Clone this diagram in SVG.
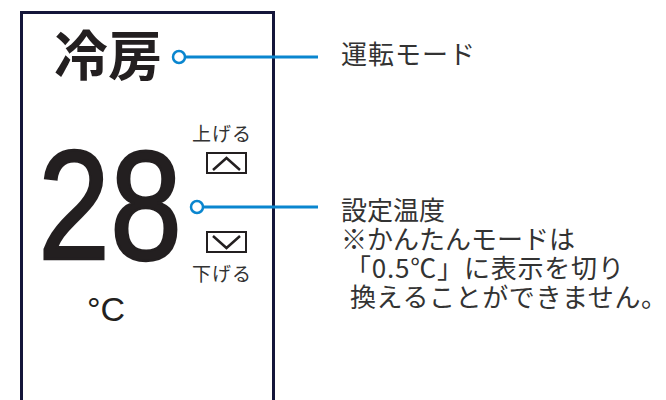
<svg xmlns="http://www.w3.org/2000/svg" width="666" height="400" viewBox="0 0 666 400">
<style>
.jp{font-family:"Noto Sans CJK JP","Noto Sans",sans-serif;fill:#231f20}
.lbl{font-size:26px;fill:#333}
.small{font-size:19px;fill:#333;letter-spacing:1px}
.conn{stroke:#0a86cf;stroke-width:3;fill:none}
.dot{stroke:#0a86cf;stroke-width:2.5;fill:#fff}
.btn{fill:#fff;stroke:#231f20;stroke-width:2}
.chev{fill:none;stroke:#231f20;stroke-width:2.5}
</style>
<rect width="666" height="400" fill="#fff"/>
<g id="frame">
<rect x="21.5" y="12.5" width="252" height="400" fill="#fff" stroke="#14163a" stroke-width="3"/>
</g>
<g id="mode">
<text class="jp" x="54" y="76" font-size="54" font-weight="bold">冷房</text>
</g>
<g id="temp">
<text x="38" y="259" font-family="Liberation Sans,Arial,sans-serif" font-size="155" fill="#231f20" stroke="#231f20" stroke-width="2.5" textLength="144" lengthAdjust="spacingAndGlyphs">28</text>
<text x="87" y="321" font-family="Liberation Sans,Arial,sans-serif" font-size="34" fill="#231f20">°C</text>
</g>
<g id="up">
<text class="jp small" x="192" y="141">上げる</text>
<rect class="btn" x="207" y="153" width="39" height="20"/>
<polyline class="chev" points="213,170 226.5,158 240,170"/>
</g>
<g id="down">
<rect class="btn" x="207" y="232" width="39" height="20"/>
<polyline class="chev" points="213,236 226.5,248 240,236"/>
<text class="jp small" x="192" y="281">下げる</text>
</g>
<g id="connectors">
<line class="conn" x1="185" y1="57" x2="318" y2="57"/>
<circle class="dot" cx="179" cy="57" r="6"/>
<line class="conn" x1="203" y1="207" x2="318" y2="207"/>
<circle class="dot" cx="197" cy="207" r="6"/>
</g>
<g id="label-mode">
<text class="jp lbl" x="341" y="64" letter-spacing="1">運転モード</text>
</g>
<g id="label-temp">
<text class="jp lbl" x="341" y="220">設定温度</text>
<text class="jp lbl" x="341" y="249">※かんたんモードは</text>
<text class="jp lbl" x="345" y="278" letter-spacing="0.8">「0.5℃」に表示を切り</text>
<text class="jp lbl" x="350" y="307" font-size="25.5" letter-spacing="0.6">換えることができません。</text>
</g>
</svg>
